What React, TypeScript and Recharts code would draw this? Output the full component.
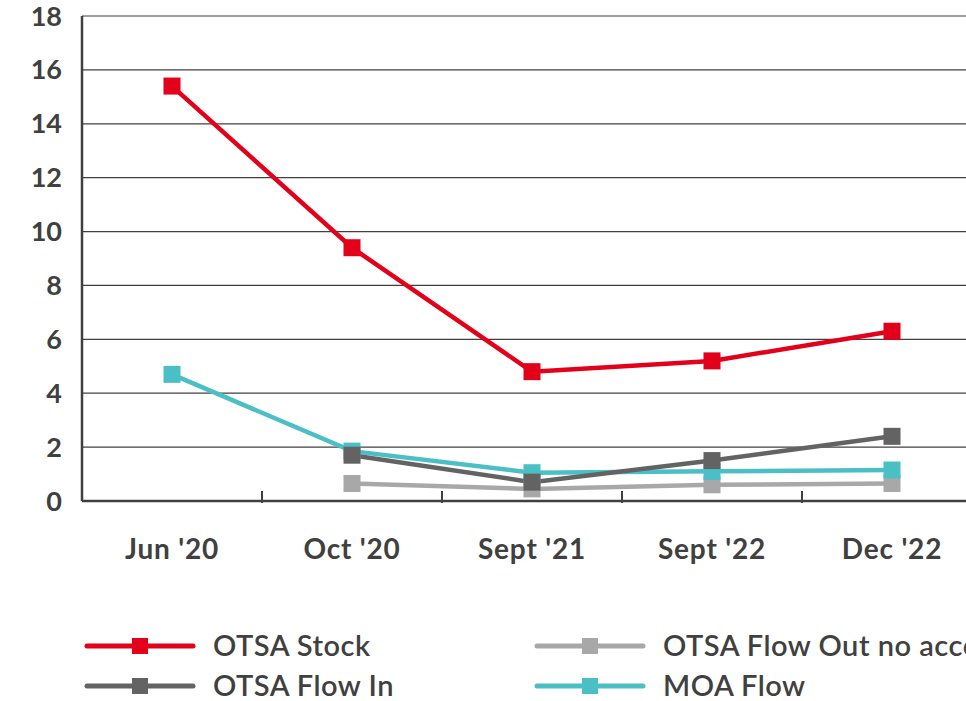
import React from "react";
import { LineChart, Line, XAxis, YAxis, CartesianGrid, Legend } from "recharts";

const periods = ["Jun '20", "Oct '20", "Sept '21", "Sept '22", "Dec '22"];
const otsaStock = [15.4, 9.4, 4.8, 5.2, 6.3];
const otsaFlowOut = [null, 0.65, 0.45, 0.6, 0.65];
const otsaFlowIn = [null, 1.7, 0.7, 1.5, 2.4];
const moaFlow = [4.7, 1.85, 1.05, 1.1, 1.15];
const yTicks = [0, 2, 4, 6, 8, 10, 12, 14, 16, 18];

const AXIS = "#404040";
const FONT = "Lato, 'Open Sans', sans-serif";

// draw order (bottom to top) and legend order kept separate
const SERIES = [
  { key: "flowOut", name: "OTSA Flow Out no accommodation", color: "#a8a8a8" },
  { key: "moa", name: "MOA Flow", color: "#4bbfc6" },
  { key: "flowIn", name: "OTSA Flow In", color: "#636363" },
  { key: "stock", name: "OTSA Stock", color: "#e2001a" },
];
const LEGEND_ORDER = ["stock", "flowOut", "flowIn", "moa"];

const chartData = periods.map((p, i) => ({
  period: p,
  stock: otsaStock[i],
  flowOut: otsaFlowOut[i],
  flowIn: otsaFlowIn[i],
  moa: moaFlow[i],
}));

const CHART_W = 982;
const CHART_H = 701;
const Y_AXIS_W = 82;
const BAND = (CHART_W - Y_AXIS_W) / periods.length;

const squareDot = (color: string) => (props: any) => {
  const { cx, cy, value, index } = props;
  if (cx == null || cy == null || value == null) return null;
  return <rect key={`d-${index}`} x={cx - 8.5} y={cy - 8.5} width={17} height={17} fill={color} />;
};

const XTick = (props: any) => {
  const { x, y, payload } = props;
  return (
    <g>
      <line x1={x + BAND / 2} x2={x + BAND / 2} y1={y - 12} y2={y} stroke={AXIS} strokeWidth={2} />
      <text
        x={x}
        y={y + 56}
        textAnchor="middle"
        fill={AXIS}
        fontSize={28}
        fontWeight={700}
        letterSpacing={0.8}
        fontFamily={FONT}
      >
        {payload.value}
      </text>
    </g>
  );
};

const renderLegend = () => {
  const byKey = Object.fromEntries(SERIES.map((s) => [s.key, s]));
  return (
    <svg width={966} height={80}>
      {LEGEND_ORDER.map((k, i) => {
        const s = byKey[k];
        const col = i % 2;
        const row = Math.floor(i / 2);
        const x0 = col === 0 ? 85 : 535;
        const cy = 21 + row * 40;
        return (
          <g key={k}>
            <line x1={x0 + 2} x2={x0 + 108} y1={cy} y2={cy} stroke={s.color} strokeWidth={5} strokeLinecap="round" />
            <rect x={x0 + 47} y={cy - 8} width={16} height={16} fill={s.color} />
            <text
              x={x0 + 128}
              y={cy + 10}
              fill={AXIS}
              fontSize={29}
              fontWeight={600}
              letterSpacing={0.5}
              fontFamily={FONT}
            >
              {s.name}
            </text>
          </g>
        );
      })}
    </svg>
  );
};

export default function App() {
  return (
    <div style={{ position: "absolute", left: 0, top: 0, width: 966, height: 701, overflow: "hidden", background: "#fff" }}>
      <LineChart
        width={CHART_W}
        height={CHART_H}
        data={chartData}
        margin={{ top: 16, right: 0, left: 0, bottom: 140 }}
      >
        <CartesianGrid vertical={false} stroke={AXIS} strokeWidth={1.2} />
        <XAxis
          dataKey="period"
          type="category"
          axisLine={{ stroke: AXIS, strokeWidth: 2.5 }}
          tickLine={false}
          tickSize={0}
          tick={<XTick />}
          height={60}
          interval={0}
          padding={{ left: BAND / 2, right: BAND / 2 }}
        />
        <YAxis
          domain={[0, 18]}
          ticks={yTicks}
          width={Y_AXIS_W}
          axisLine={{ stroke: AXIS, strokeWidth: 2.5 }}
          tickLine={false}
          tickSize={0}
          tickMargin={20}
          tick={{ fill: AXIS, fontSize: 27, fontWeight: 700, fontFamily: FONT }}
        />
        <Legend
          verticalAlign="middle"
          layout="horizontal"
          content={renderLegend}
          wrapperStyle={{ position: "absolute", top: 625, left: 0, width: 966, height: 80 }}
        />
        {SERIES.map((s) => (
          <Line
            key={s.key}
            dataKey={s.key}
            name={s.name}
            stroke={s.color}
            strokeWidth={4.5}
            dot={squareDot(s.color)}
            activeDot={false}
            isAnimationActive={false}
            connectNulls={false}
          />
        ))}
      </LineChart>
    </div>
  );
}
